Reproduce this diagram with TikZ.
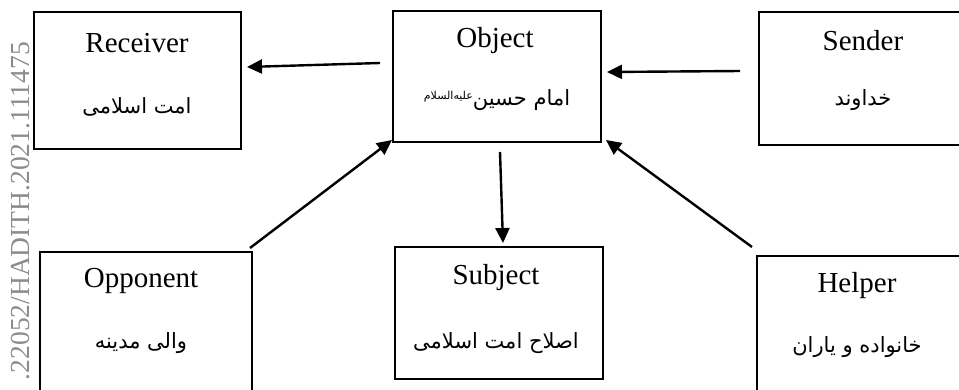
\documentclass[tikz,border=0pt]{standalone}
\usepackage{fontspec}
\setmainfont{Liberation Serif}
\newfontfamily\fa[Script=Arabic]{DejaVu Sans}
\TeXXeTstate=1
\usetikzlibrary{arrows.meta}
\begin{document}
\begin{tikzpicture}[x=1pt,y=1pt,
  box/.style={draw=black,line width=2pt,inner sep=0pt,outer sep=0pt,fill=none},
  en/.style={font=\fontsize{29}{31}\selectfont,inner sep=0pt},
  far/.style={font=\fa\fontsize{21}{24}\selectfont,inner sep=0pt},
  arr/.style={line width=2.4pt,-{Triangle[length=15pt,width=14pt]}}]
\useasboundingbox (0,0) rectangle (959,-389);
\clip (0,0) rectangle (959,-389);
% DOI
\node[rotate=90,anchor=base east,inner sep=0pt,text=black!45,font=\fontsize{27.5}{30}\selectfont] (doi) at (30,-42) {.22052/HADITH.2021.111475};
% boxes
\node[box,minimum width=207pt,minimum height=137pt] (rec) at (137.5,-80.5) {};
\node[box,minimum width=208pt,minimum height=131pt] (obj) at (497,-76.5) {};
\node[box,minimum width=208pt,minimum height=133pt] (snd) at (863,-78.5) {};
\node[box,minimum width=212pt,minimum height=144pt] (opp) at (146,-324) {};
\node[box,minimum width=208pt,minimum height=132pt] (sub) at (499,-313) {};
\node[box,minimum width=208pt,minimum height=144pt] (hlp) at (861,-328) {};
% texts
\node[en] (recEn) at (137,-43) {Receiver};
\node[far] (recFa) at (137,-107) {\beginR امت اسلامی\endR};
\node[en] (objEn) at (495,-41) {Object};
\node[far] (objFa) at (497,-100) {\beginR امام حسین\raisebox{6pt}{\fa\fontsize{11}{12}\selectfont\beginR علیه‌السلام\endR}\endR};
\node[en] (sndEn) at (863,-41) {Sender};
\node[far] (sndFa) at (863,-100) {\beginR خداوند\endR};
\node[en] (oppEn) at (141,-281) {Opponent};
\node[far] (oppFa) at (141,-343) {\beginR والی مدینه\endR};
\node[en] (subEn) at (496,-278) {Subject};
\node[far] (subFa) at (496,-343) {\beginR اصلاح امت اسلامی\endR};
\node[en] (hlpEn) at (857,-286) {Helper};
\node[far] (hlpFa) at (857,-347) {\beginR خانواده و یاران\endR};
% arrows
\draw[arr] ([shift={(-13,-52)}]obj.north west) -- ([shift={(6,-55)}]rec.north east);
\draw[arr] ([shift={(-19,-59)}]snd.north west) -- ([shift={(6,-61)}]obj.north east);
\draw[arr] ([shift={(3,-10)}]obj.south) -- ([shift={(4,4)}]sub.north);
\draw[arr] ([shift={(-2,4)}]opp.north east) -- ([shift={(-1,2)}]obj.south west);
\draw[arr] ([shift={(-5,9)}]hlp.north west) -- ([shift={(5,2)}]obj.south east);
\end{tikzpicture}
\end{document}
